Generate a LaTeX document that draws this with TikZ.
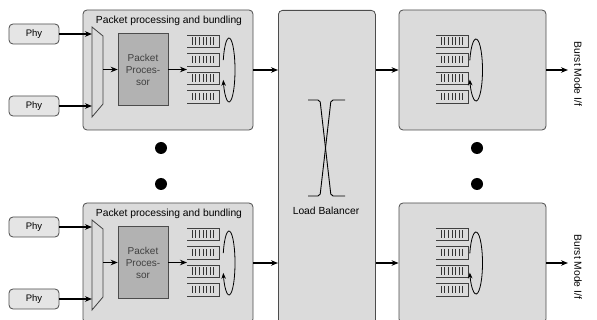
\documentclass[tikz,border=0pt]{standalone}
\usepackage{fontspec}
\setmainfont{Liberation Sans}
\usetikzlibrary{arrows.meta}

\newcommand\lblfont{\fontsize{10.3}{12}\selectfont}

\tikzset{
  panel/.style={draw=black!70, line width=0.8pt, fill=black!14, rounded corners=4pt, inner sep=0pt},
  phybox/.style={draw=black!70, line width=0.8pt, fill=black!10, rounded corners=4pt,
    minimum width=50pt, minimum height=20pt, inner sep=0pt, font=\fontsize{9.5}{10}\selectfont},
  procbox/.style={draw=black!70, line width=0.6pt, fill=black!30, minimum width=50pt,
    minimum height=72pt, inner sep=0pt, align=center, font=\fontsize{10}{12}\selectfont, text=black!75},
  flow/.style={line width=1.2pt, -{Stealth[length=7pt,width=5.5pt]}},
  qline/.style={line width=0.7pt, draw=black!75},
  loopline/.style={line width=0.8pt, -{Stealth[length=6pt,width=4.5pt]}},
  muxline/.style={line width=0.8pt, draw=black!75},
  dotmark/.style={circle, fill=black, minimum size=12pt, inner sep=0pt},
  pics/queues/.style={code={
    \foreach \r in {0,1,2,3}{
      \draw[qline] (0,\r*18.5) -- (32,\r*18.5) -- (32,\r*18.5+12.5) -- (0,\r*18.5+12.5);
      \foreach \b in {0,...,6}
        \draw[line width=0.5pt, black!80] (5+\b*3.6,\r*18.5+2.5) -- ++(0,7.5);
    }
  }},
}

\begin{document}
\begin{tikzpicture}[x=1pt,y=-1pt]
\useasboundingbox (0,0) rectangle (597,320);
\clip (0,0) rectangle (597,320);

% load balancer spanning both lanes
\node[panel, minimum width=97pt, minimum height=330pt, anchor=north west] (lb) at (278,10) {};
\draw[line width=0.9pt, rounded corners=2pt] (308,100) -- (320,100) -- (331,196) -- (345,196);
\draw[line width=0.9pt, rounded corners=2pt] (345,100) -- (331,100) -- (320,196) -- (308,196);
\node[font=\lblfont] (lbl) at (326,211) {Load Balancer};

\foreach \g/\dy in {a/0,b/193}{
\begin{scope}[shift={(0,\dy)}]
  % packet processing and bundling block
  \node[panel, minimum width=170pt, minimum height=120pt] (ppb\g) at (168,70) {};
  \node[font=\lblfont] (ttl\g) at (169,21) {Packet processing and bundling};
  \node[phybox] (phyA\g) at (34,34) {Phy};
  \node[phybox] (phyB\g) at (34,106) {Phy};
  % multiplexer
  \draw[muxline] (92,27) -- (103,36) -- (103,104) -- (92,117) -- cycle;
  \coordinate (mxinA\g) at (92,34);
  \coordinate (mxinB\g) at (92,106);
  \coordinate (mxout\g) at (103,69.5);
  \draw[flow] (phyA\g.east) -- (mxinA\g);
  \draw[flow] (phyB\g.east) -- (mxinB\g);
  \node[procbox] (pp\g) at (143,69.5) {Packet\\Proces-\\sor};
  \draw[flow] (mxout\g) -- (pp\g.west);
  % queues with round-robin loop
  \pic at (187,35) {queues};
  \coordinate (qin\g) at (187,69.5);
  \draw[flow] (pp\g.east) -- (qin\g);
  \draw[loopline] (229,70) ++(-162:6 and 32)
    arc[start angle=-162, end angle=162, x radius=6, y radius=32];
  \draw[flow] (ppb\g.east) -- (ppb\g.east -| lb.west);

  % output stage
  \node[panel, minimum width=147pt, minimum height=120pt] (rb\g) at (472.5,70) {};
  \draw[flow] (rb\g.west -| lb.east) -- (rb\g.west);
  \pic at (436,35) {queues};
  \draw[loopline] (476,70) ++(-162:6.5 and 31)
    arc[start angle=-162, end angle=162, x radius=6.5, y radius=31];
  \coordinate (out\g) at (568,70);
  \draw[flow] (rb\g.east) -- (out\g);
  \node[rotate=-90, font=\lblfont] (bm\g) at (578,74) {Burst Mode I/f};
\end{scope}
}

% continuation dots between the two lanes
\node[dotmark] (dotL1) at (161,148) {};
\node[dotmark] (dotR1) at (477,148) {};
\node[dotmark] (dotL2) at (161,184) {};
\node[dotmark] (dotR2) at (477,184) {};
\end{tikzpicture}
\end{document}
